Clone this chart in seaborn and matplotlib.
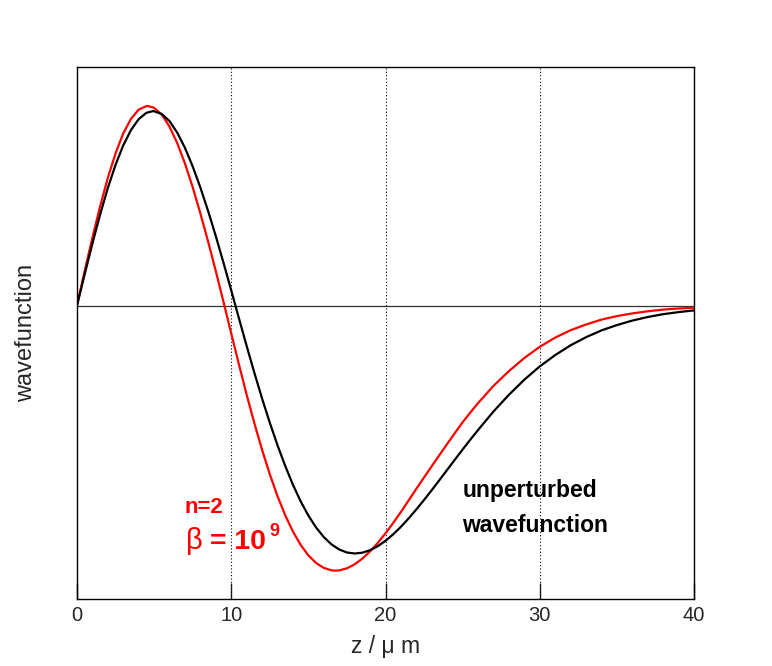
import numpy as np
import pandas as pd
import matplotlib
matplotlib.use("Agg")
import matplotlib.pyplot as plt
import seaborn as sns

# values (y in pixel-like units, zero line = 0)
z_unpert = [0, 0.5, 1, 1.5, 2, 2.5, 3, 3.5, 4, 4.5, 4.95, 5.5, 6, 6.5, 7, 7.5, 8, 8.5, 9, 9.5,
            10, 10.5, 11, 11.5, 12, 12.5, 13, 13.5, 14, 14.5, 15, 15.5, 16, 16.5, 17, 17.5,
            18, 18.5, 19, 19.5, 20, 20.5, 21, 21.5, 22, 22.5, 23, 23.5, 24, 24.5, 25, 25.5,
            26, 27, 28, 29, 30, 31, 32, 33, 34, 35, 36, 37, 38, 39, 40]
psi_unpert = [0, 31.4, 62.0, 91.0, 117.6, 140.7, 160.2, 175.5, 186.4, 192.7, 194.45, 191.5,
              184.3, 172.8, 157.6, 139.1, 117.9, 94.5, 69.3, 42.6,
              15.0, -12.9, -40.5, -67.35, -93.1, -117.3, -139.8, -160.5, -179.3, -195.8,
              -210.1, -222.0, -231.6, -238.9, -244.0, -247.0,
              -248.0, -247.2, -244.7, -240.7, -235.3, -228.8, -221.3, -212.9, -203.9, -194.4,
              -184.6, -174.5, -164.3, -154.1, -144.0, -134.1,
              -124.5, -106.0, -89.3, -74.2, -60.9, -49.6, -39.8, -31.7, -24.9, -19.6, -15.1,
              -11.5, -8.7, -6.6, -4.9]

z_beta = [0, 0.5, 1, 1.5, 2, 2.5, 3, 3.5, 4, 4.5, 4.6, 5, 5.5, 6, 6.5, 7, 7.5, 8, 8.5, 9, 9.5,
          10, 10.5, 11, 11.5, 12, 12.5, 13, 13.5, 14, 14.5, 15, 15.5, 16, 16.5, 16.75, 17,
          17.5, 18, 18.5, 19, 19.5, 20, 20.5, 21, 21.5, 22, 22.5, 23, 23.5, 24, 24.5, 25, 25.5,
          26, 27, 28, 29, 30, 31, 32, 33, 34, 35, 36, 37, 38, 39, 40]
psi_beta = [0, 34.5, 67.9, 99.3, 127.7, 152.2, 172.1, 186.7, 195.9, 199.4, 199.5, 197.7, 190.7,
            178.8, 162.3, 141.9, 118.3, 92.0, 63.9, 34.3, 3.4,
            -28.0, -59.1, -89.3, -117.8, -144.4, -168.8, -190.7, -209.8, -226.1, -239.4,
            -249.9, -257.5, -262.4, -264.8, -265.2, -264.9,
            -262.8, -258.8, -253.1, -245.9, -237.4, -227.8, -217.4, -206.4, -194.9, -183.3,
            -171.9, -160.6, -149.5, -138.4, -127.5, -116.7, -107.0,
            -97.6, -80.4, -65.6, -52.5, -41.3, -32.1, -24.7, -19.0, -14.1, -10.6, -7.9,
            -5.8, -4.1, -3.0, -2.2]

x_ticks = [0, 10, 20, 30, 40]
grid_x = [10, 20, 30]

sns.set_style("ticks")
plt.rcParams['font.family'] = ['Liberation Sans', 'DejaVu Sans']

fig = plt.figure(figsize=(7.72, 6.66), dpi=100)
ax = fig.add_axes([77 / 772, 67 / 666, 617 / 772, 532 / 666])

for gx in grid_x:
    ax.axvline(gx, color="black", lw=0.8, ls=(0, (1, 2)), zorder=1)
ax.axhline(0, color="#333333", lw=0.9, zorder=1)

df_u = pd.DataFrame({"z": z_unpert, "psi": psi_unpert})
df_b = pd.DataFrame({"z": z_beta, "psi": psi_beta})
sns.lineplot(data=df_u, x="z", y="psi", color="black", lw=1.6, ax=ax, sort=False, zorder=3)
sns.lineplot(data=df_b, x="z", y="psi", color="red", lw=1.6, ax=ax, sort=False, zorder=2)

ax.set_xlim(0, 40)
ax.set_ylim(-293.5, 238.5)
ax.set_xticks(x_ticks)
ax.set_xticklabels([str(t) for t in x_ticks])
ax.set_yticks([])
ax.tick_params(axis="x", direction="in", length=11.5, width=1, labelsize=14.5, pad=5,
               bottom=True, top=False)
for s in ax.spines.values():
    s.set_color("black")
    s.set_linewidth(1.0)

ax.set_xlabel("z / \u03bc m", fontsize=16.5, labelpad=7)
ax.set_ylabel("wavefunction", fontsize=17, labelpad=29)

ax.text(7.0, -207.5, "n=2", color="red", fontsize=16, fontweight="bold", va="baseline")
ax.text(7.05, -243.5, "\u03b2", color="red", fontsize=21, va="baseline")
ax.text(8.62, -243.5, "= 10", color="red", fontsize=20.5, fontweight="bold", va="baseline")
ax.text(12.5, -230.5, "9", color="red", fontsize=13, fontweight="bold", va="baseline")
ax.text(24.97, -191.5, "unperturbed", color="black", fontsize=16.5, fontweight="bold",
        va="baseline")
ax.text(24.97, -226.0, "wavefunction", color="black", fontsize=16.5, fontweight="bold",
        va="baseline")

fig.savefig("out.png", dpi=100)
